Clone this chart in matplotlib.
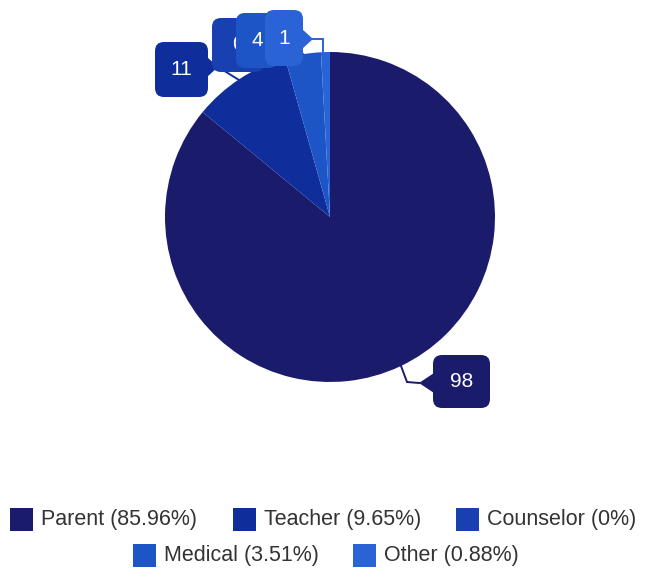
import matplotlib.pyplot as plt
from matplotlib.patches import FancyBboxPatch, Rectangle, Polygon

plt.rcParams['font.family'] = ['Liberation Sans', 'DejaVu Sans']

labels = ['Parent', 'Teacher', 'Counselor', 'Medical', 'Other']
counts = [98, 11, 0, 4, 1]
colors = ['#1b1b6c', '#0f2e9b', '#1840b0', '#1e55c6', '#2a63d6']

total = float(sum(counts))
pcts = [c / total * 100 for c in counts]

W, H = 655, 577
fig = plt.figure(figsize=(W / 100, H / 100), dpi=100)
ax = fig.add_axes([0, 0, 1, 1])

cx, cy, r = 330, H - 217, 165
ax.pie(counts, colors=colors, startangle=90, counterclock=False,
       center=(cx, cy), radius=r, wedgeprops=dict(linewidth=0))
ax.set_xlim(0, W)
ax.set_ylim(0, H)
ax.set_aspect('equal')
ax.axis('off')


def callout(txt, color, box, tip, line, z):
    # box = (x0, y0, x1, y1) in pixel coords from top-left
    x0, y0, x1, y1 = box
    ax.plot([p[0] for p in line], [H - p[1] for p in line], color=color,
            lw=1.4, zorder=z, solid_joinstyle='miter')
    rad = 9
    ax.add_patch(FancyBboxPatch((x0 + rad, H - y1 + rad), (x1 - x0) - 2 * rad,
                                (y1 - y0) - 2 * rad,
                                boxstyle='round,pad=%d,rounding_size=%d' % (rad, rad),
                                fc=color, ec='none', zorder=z))
    # pointer triangle from box side to leader line
    tx, ty = tip
    if tx < x0:
        side = x0 + 1
    else:
        side = x1 - 1
    my = min(max(ty, y0 + 14), y1 - 14)
    ax.add_patch(Polygon([(side, H - my + 10), (side, H - my - 10), (tx, H - ty)],
                         closed=True, fc=color, ec='none', zorder=z))
    ax.text((x0 + x1) / 2, H - (y0 + y1) / 2, txt, color='white', fontsize=15,
            ha='center', va='center', zorder=z + 0.5)


callout('98', colors[0], (433, 355, 490, 408), (419, 383),
        [(401, 366), (407, 382), (419, 383)], 5)
callout('11', colors[1], (155, 42, 208, 97), (218, 67),
        [(239, 80), (218, 67)], 5)
callout('0', colors[2], (212, 18, 264, 72), (272, 60),
        [(285, 58), (272, 60)], 6)
callout('4', colors[3], (236, 13, 278, 68), (292, 52),
        [(303, 54), (292, 52)], 7)
callout('1', colors[4], (265, 10, 303, 66), (313, 39),
        [(323, 58), (323, 39), (313, 39)], 8)

# legend drawn in pixel positions, two centred rows
legend_rows = [
    (519, [(10, 0), (233, 1), (456, 2)]),
    (555, [(133, 3), (353, 4)]),
]
for ly, items in legend_rows:
    for mx, i in items:
        ax.add_patch(Rectangle((mx, H - ly - 11.5), 23, 23, fc=colors[i], ec='none'))
        p = pcts[i]
        ptxt = ('%.2f' % p).rstrip('0').rstrip('.') if p else '0'
        ax.text(mx + 31, H - ly - 1, '%s (%s%%)' % (labels[i], ptxt), fontsize=15.5,
                color='#333333', ha='left', va='center')

fig.savefig('out.png', dpi=100)
